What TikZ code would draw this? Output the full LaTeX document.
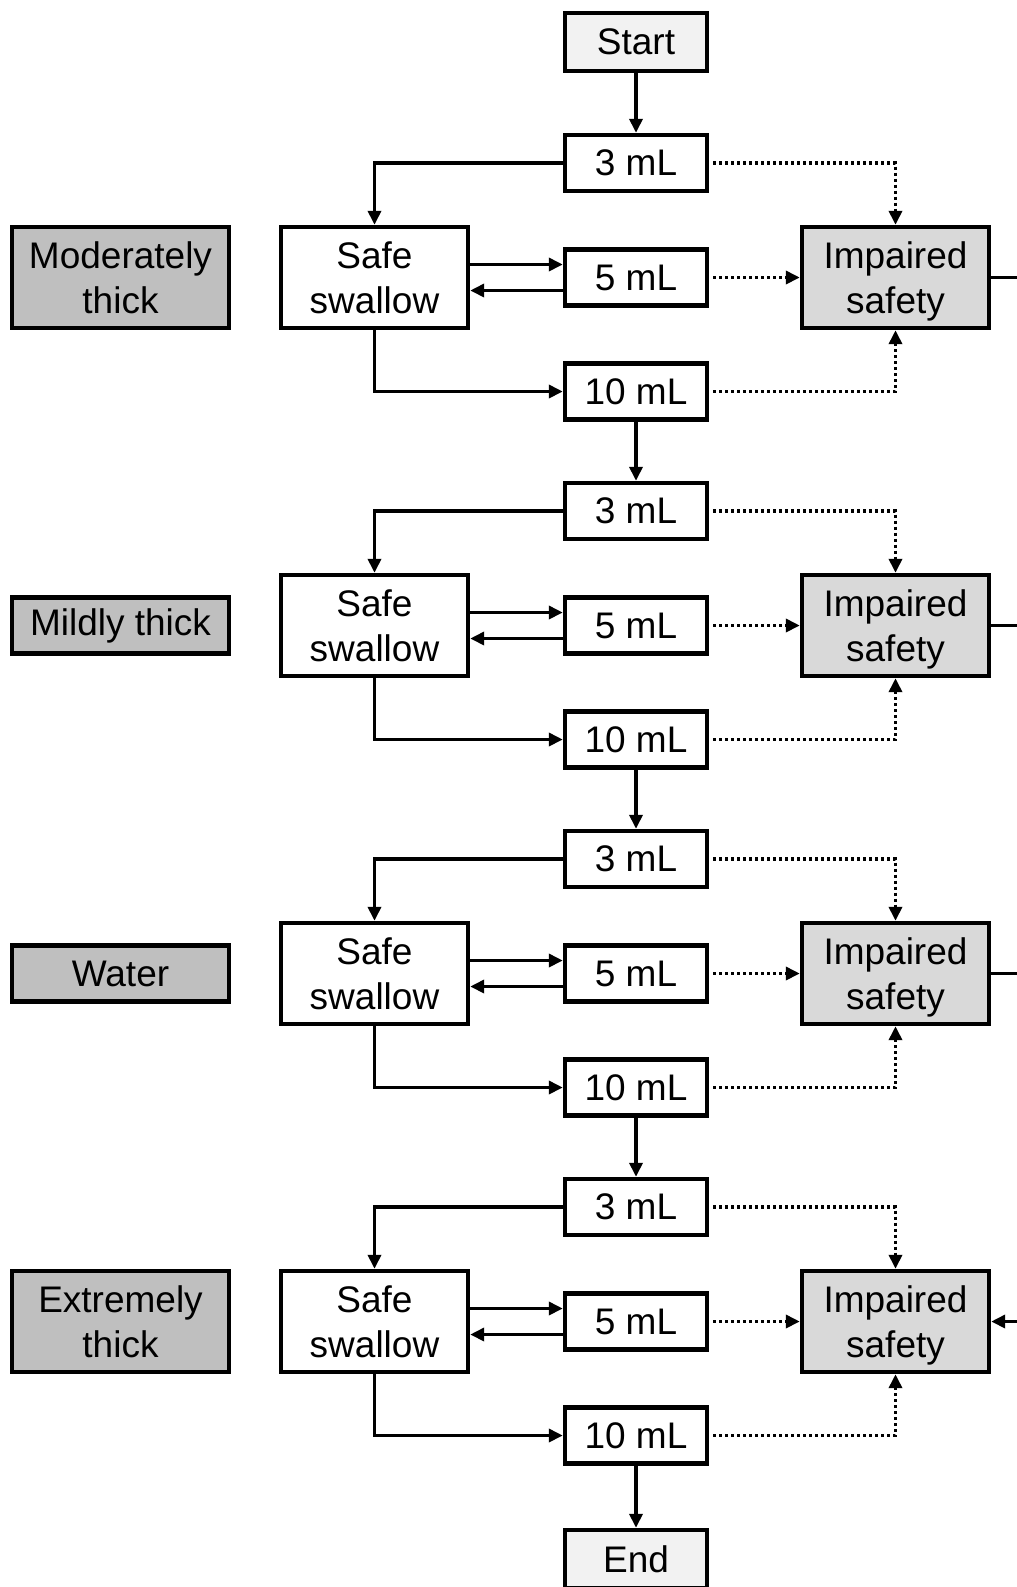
\documentclass[tikz,border=0pt]{standalone}
\usepackage{fontspec}
\setmainfont{Liberation Sans}
\usetikzlibrary{arrows.meta}
\definecolor{startfill}{HTML}{F2F2F2}
\definecolor{impfill}{HTML}{D9D9D9}
\definecolor{leftfill}{HTML}{BFBFBF}
\begin{document}
\begin{tikzpicture}[x=0.5pt,y=-0.5pt,
  box/.style={draw, line width=2.2pt, inner sep=0pt, align=center,
    font=\fontsize{18.5}{22.3}\selectfont},
  mlbox/.style={box, minimum width=71pt, minimum height=28pt},
  termbox/.style={box, fill=startfill, minimum width=71pt, minimum height=29pt},
  safebox/.style={box, minimum width=93.5pt, minimum height=50.5pt},
  impbox/.style={box, fill=impfill, minimum width=93.5pt, minimum height=50.5pt, text depth=0pt},
  leftbox/.style={box, fill=leftfill, minimum width=108.5pt, minimum height=50.5pt},
  leftsmall/.style={box, fill=leftfill, minimum width=108.5pt, minimum height=28pt},
  tip/.style={-{Triangle[length=7pt,width=6.5pt]}},
  conn/.style={line width=1.8pt, tip},
  plain/.style={line width=1.8pt},
  dots/.style={line width=1.9pt, dash pattern=on 1.6pt off 1.4pt, tip}
]
\useasboundingbox (0,0) rectangle (1017,1587);
\node[termbox] (start) at (636,42) {Start};
% group rows
\foreach \g/\lab/\sty in {1/{Moderately\\thick}/leftbox, 2/{Mildly thick}/leftsmall, 3/{Water}/leftsmall, 4/{Extremely\\thick}/leftbox}{
  \pgfmathsetmacro{\off}{(\g-1)*348}
  \node[mlbox] (m3-\g) at (636,163+\off) {3 mL};
  \node[safebox] (safe-\g) at (374.5,277.5+\off) {Safe\\swallow};
  \node[mlbox] (m5-\g) at (636,277.5+\off) {5 mL};
  \node[impbox] (imp-\g) at (895.5,277.5+\off) {Impaired\\safety};
  \node[mlbox] (m10-\g) at (636,391.5+\off) {10 mL};
  \node[\sty] (cat-\g) at (120.5,277.5+\off) {\lab};
  \coordinate (edge-\g) at (1017,277.5+\off);
  \draw[conn] (m3-\g.west) -| (safe-\g.north);
  \draw[conn] ([yshift=6.5pt]safe-\g.east) -- ([yshift=6.5pt]m5-\g.west);
  \draw[conn] ([yshift=-6.5pt]m5-\g.west) -- ([yshift=-6.5pt]safe-\g.east);
  \draw[conn] (safe-\g.south) |- (m10-\g.west);
  \draw[dots] ([xshift=2pt]m3-\g.east) -| (imp-\g.north);
  \draw[dots] ([xshift=2pt]m5-\g.east) -- (imp-\g.west);
  \draw[dots] ([xshift=2pt]m10-\g.east) -| (imp-\g.south);
}
\node[termbox] (end) at (636,1559) {End};
\draw[conn] (start) -- (m3-1);
\draw[conn] (m10-1) -- (m3-2);
\draw[conn] (m10-2) -- (m3-3);
\draw[conn] (m10-3) -- (m3-4);
\draw[conn] (m10-4) -- (end);
\draw[plain] (imp-1.east) -- (edge-1);
\draw[plain] (imp-2.east) -- (edge-2);
\draw[plain] (imp-3.east) -- (edge-3);
\draw[conn] (edge-4) -- (imp-4.east);
\end{tikzpicture}
\end{document}
